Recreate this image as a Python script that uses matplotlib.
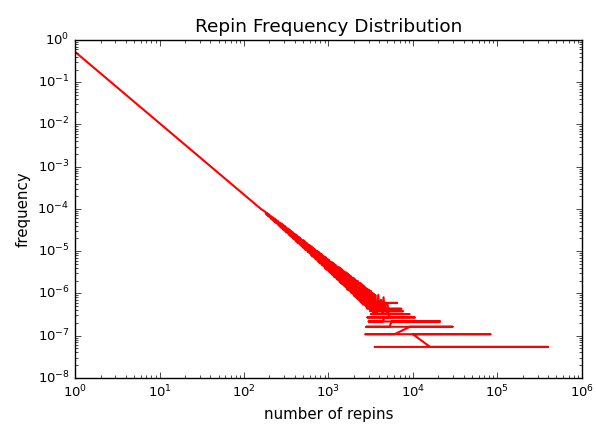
import numpy as np
import matplotlib
matplotlib.use('Agg')
import matplotlib.pyplot as plt

# number of repins, in the order the points were plotted
# clean part of the curve
head_repins = [1, 2, 3, 4, 5, 6, 7, 8, 10, 13, 17, 20, 25, 30, 40, 50, 65, 80, 100, 130, 160]
head_counts = [9710000, 3010000, 1520000, 933000, 640000, 470000, 362000, 289000, 198000,
               127000, 80900, 61400, 42100, 30950, 19050, 13060, 8380, 5900, 4050, 2590, 1830]

# noisy part (neighbouring repin values jump up and down)
band_repins = [180, 184, 188, 192, 196, 200, 204, 208, 212, 216,
               221, 226, 231, 236, 241, 246, 251, 256, 261, 266,
               272, 278, 284, 290, 296, 302, 308, 314, 320, 327,
               334, 341, 348, 355, 362, 369, 376, 384, 392, 400,
               408, 416, 424, 433, 442, 451, 460, 469, 478, 488,
               498, 508, 518, 528, 539, 550, 561, 572, 583, 595,
               607, 619, 631, 644, 657, 670, 683, 697, 711, 725,
               740, 755, 770, 785, 800, 816, 832, 849, 866, 883,
               901, 919, 937, 956, 975, 995, 1015, 1035, 1056, 1077,
               1098, 1120, 1142, 1165, 1188, 1212, 1236, 1261, 1286, 1312,
               1338, 1365, 1392, 1420, 1448, 1477, 1507, 1537, 1568, 1599,
               1631, 1664, 1697, 1731, 1766, 1801, 1837, 1874, 1911, 1949,
               1988, 2028, 2068, 2109, 2151, 2194, 2238, 2283, 2329, 2376,
               2424, 2472, 2521, 2571, 2622, 2674, 2727, 2781, 2837, 2894,
               2952, 3011, 3071, 3132, 3195, 3259, 3324, 3390, 3458, 3527, 3598, 3670]
band_counts = [1570, 1362, 1485, 1260, 1402, 1191, 1299, 1090, 1226, 1030,
               1157, 943, 1102, 872, 1021, 834, 972, 762, 893, 705,
               858, 652, 816, 603, 750, 570, 720, 521, 662, 492,
               630, 451, 599, 416, 556, 398, 529, 364, 482, 344,
               463, 315, 439, 290, 408, 278, 387, 254, 353, 240,
               342, 220, 328, 202, 299, 194, 284, 175, 263, 168,
               252, 151, 239, 139, 222, 134, 210, 122, 193, 115,
               187, 105, 178, 97, 165, 93, 157, 85, 143, 81,
               138, 72, 131, 67, 122, 64, 115, 58, 106, 55,
               102, 50, 97, 46, 90, 44, 85, 40, 78, 38,
               77, 34, 73, 32, 68, 30, 64, 28, 59, 26,
               58, 23, 54, 22, 51, 21, 48, 19, 44, 18,
               43, 16, 40, 15, 37, 14, 36, 13, 33, 12,
               32, 11, 30, 10, 28, 10, 26, 9, 24, 8,
               23, 8, 22, 7, 21, 7, 19, 6, 18, 6, 17, 6]

# tail: rare repin values, few pins each
tail_repins = [3800, 3900, 4050, 4200, 4350, 4500, 4650, 4800,
               3750, 6500, 5000, 5100, 3650, 7300, 5200, 5300, 3600, 7600, 5100,
               4900, 3200, 9100, 5400, 5000, 2900, 10500, 4600, 4400, 3000, 21000, 5600,
               5300, 2800, 29500, 9200, 6100, 2750, 83000, 10000, 16000, 400000, 3550]
tail_counts = [8, 17, 7, 13, 6, 15, 7, 11,
               11, 11, 11, 8, 8, 8, 8, 7, 7, 7, 7,
               6, 6, 6, 6, 5, 5, 5, 5, 4, 4, 4, 4,
               3, 3, 3, 3, 2, 2, 2, 2, 1, 1, 1]

total_pins = 18500000

repins = head_repins + band_repins + tail_repins
freq = np.array(head_counts + band_counts + tail_counts) / total_pins

plt.style.use('classic')
fig, ax = plt.subplots(figsize=(5.96, 4.26), dpi=100)
fig.patch.set_facecolor('white')
fig.subplots_adjust(left=0.126, right=0.976, top=0.906, bottom=0.113)

ax.plot(repins, freq, color='r', lw=1.5)
ax.set_xscale('log')
ax.set_yscale('log')
ax.set_xlim(1, 1e6)
ax.set_ylim(1e-8, 1)

ax.set_title('Repin Frequency Distribution', fontsize=13.3, pad=6)
ax.set_xlabel('number of repins', fontsize=10.8)
ax.set_ylabel('frequency', fontsize=10.8)
ax.tick_params(labelsize=9.5)

fig.savefig('out.png', dpi=100, facecolor='white')
